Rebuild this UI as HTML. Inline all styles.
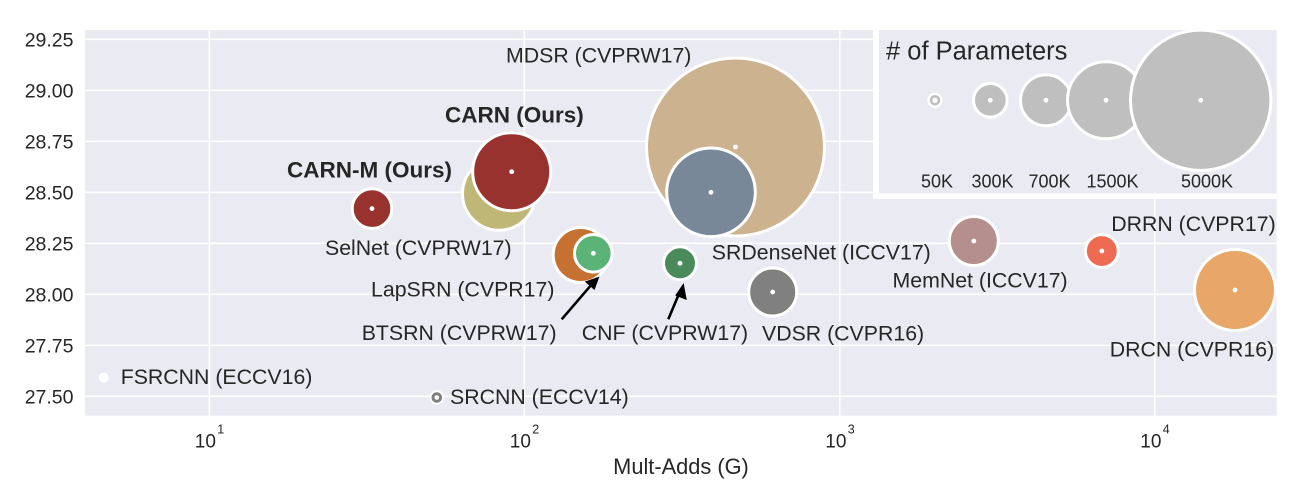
<!DOCTYPE html>
<html>
<head>
<meta charset="utf-8">
<style>
html,body{margin:0;padding:0;background:#fff;}
svg{display:block;}
text{font-family:"Liberation Sans",Arial,sans-serif;fill:#262626;}
</style>
</head>
<body>
<svg width="1316" height="496" viewBox="0 0 1316 496" xmlns="http://www.w3.org/2000/svg">
<rect x="0" y="0" width="1316" height="496" fill="#ffffff"/>
<!-- axes background -->
<rect x="85" y="30" width="1191.7" height="385.7" fill="#eaeaf2"/>
<!-- grid -->
<g stroke="#ffffff" stroke-width="1.6">
<line x1="85" x2="1276.7" y1="39.3" y2="39.3"/>
<line x1="85" x2="1276.7" y1="90.3" y2="90.3"/>
<line x1="85" x2="1276.7" y1="141.3" y2="141.3"/>
<line x1="85" x2="1276.7" y1="192.3" y2="192.3"/>
<line x1="85" x2="1276.7" y1="243.3" y2="243.3"/>
<line x1="85" x2="1276.7" y1="294.3" y2="294.3"/>
<line x1="85" x2="1276.7" y1="345.3" y2="345.3"/>
<line x1="85" x2="1276.7" y1="396.3" y2="396.3"/>
<line x1="209.3" x2="209.3" y1="30" y2="415.7"/>
<line x1="524.3" x2="524.3" y1="30" y2="415.7"/>
<line x1="839.8" x2="839.8" y1="30" y2="415.7"/>
<line x1="1154.8" x2="1154.8" y1="30" y2="415.7"/>
</g>
<!-- y tick labels -->
<g font-size="19.5" text-anchor="end">
<text x="73.5" y="46.3">29.25</text>
<text x="73.5" y="97.3">29.00</text>
<text x="73.5" y="148.3">28.75</text>
<text x="73.5" y="199.3">28.50</text>
<text x="73.5" y="250.3">28.25</text>
<text x="73.5" y="301.3">28.00</text>
<text x="73.5" y="352.3">27.75</text>
<text x="73.5" y="403.3">27.50</text>
</g>
<!-- x tick labels -->
<g font-size="19">
<text x="194.8" y="447.7">10</text><text x="217.3" y="433.5" font-size="12.5">1</text>
<text x="509.8" y="447.7">10</text><text x="532.3" y="433.5" font-size="12.5">2</text>
<text x="825.3" y="447.7">10</text><text x="847.8" y="433.5" font-size="12.5">3</text>
<text x="1140.3" y="447.7">10</text><text x="1162.8" y="433.5" font-size="12.5">4</text>
</g>
<text x="681" y="474" font-size="21.8" text-anchor="middle">Mult-Adds (G)</text>

<!-- bubbles -->
<g stroke="#ffffff" stroke-width="3">
<circle cx="735.5" cy="147" r="89" fill="#cdb290"/>
<circle cx="711" cy="192.3" r="44.3" fill="#788898"/>
<circle cx="499" cy="193.7" r="36.5" fill="#bfb776"/>
<circle cx="511.7" cy="171.7" r="39" fill="#97322f"/>
<circle cx="372" cy="208.6" r="19.8" fill="#97322f"/>
<circle cx="580.7" cy="255" r="27.5" fill="#c67032"/>
<circle cx="593.3" cy="253.3" r="18.8" fill="#5cb377"/>
<circle cx="680" cy="263.3" r="16.5" fill="#4a8a5b"/>
<circle cx="772.7" cy="292" r="24" fill="#808080"/>
<circle cx="973.8" cy="241" r="24.5" fill="#b58f8e"/>
<circle cx="1101.8" cy="251" r="16.4" fill="#ee6a50"/>
<circle cx="1235" cy="290" r="40.5" fill="#e8a769"/>
<circle cx="103.7" cy="377.7" r="3.5" fill="#f4f4f8"/>
</g>
<circle cx="436.8" cy="397.5" r="6.3" fill="#808080" stroke="#ffffff" stroke-width="2"/>
<!-- center dots -->
<g fill="#ffffff">
<circle cx="735.5" cy="147" r="2.4"/>
<circle cx="711" cy="192.3" r="2.4"/>
<circle cx="511.7" cy="171.7" r="2.4"/>
<circle cx="372" cy="208.6" r="2.4"/>
<circle cx="593.3" cy="253.3" r="2.4"/>
<circle cx="680" cy="263.3" r="2.4"/>
<circle cx="772.7" cy="292" r="2.4"/>
<circle cx="973.8" cy="241" r="2.4"/>
<circle cx="1101.8" cy="251" r="2.4"/>
<circle cx="1235" cy="290" r="2.4"/>
<circle cx="436.8" cy="397.5" r="2.3"/>
<circle cx="103.7" cy="377.7" r="4.5"/>
</g>

<!-- arrows -->
<g stroke="#000" stroke-width="2.6" fill="none">
<line x1="561.7" y1="319.3" x2="591" y2="285.2"/>
<line x1="668.3" y1="319.3" x2="679.2" y2="293.2"/>
</g>
<g fill="#000">
<polygon points="599.5,276.5 584.8,281.6 594.5,290"/>
<polygon points="683.6,283 675.2,295.5 686.8,300"/>
</g>

<!-- labels -->
<g font-size="21.3">
<text x="506" y="62.3">MDSR (CVPRW17)</text>
<text x="325" y="255">SelNet (CVPRW17)</text>
<text x="371" y="296.5">LapSRN (CVPR17)</text>
<text x="361.7" y="340">BTSRN (CVPRW17)</text>
<text x="581.7" y="340">CNF (CVPRW17)</text>
<text x="450" y="404">SRCNN (ECCV14)</text>
<text x="120.7" y="384">FSRCNN (ECCV16)</text>
<text x="711.8" y="259.3">SRDenseNet (ICCV17)</text>
<text x="762" y="340.7">VDSR (CVPR16)</text>
<text x="892.5" y="287.3">MemNet (ICCV17)</text>
<text x="1111.2" y="231">DRRN (CVPR17)</text>
<text x="1109.7" y="356.7">DRCN (CVPR16)</text>
</g>
<g font-size="22.5" font-weight="bold">
<text x="445" y="122.3">CARN (Ours)</text>
<text x="287" y="177.3">CARN-M (Ours)</text>
</g>

<!-- legend -->
<rect x="873" y="30" width="403.7" height="169" fill="#ffffff"/>
<rect x="879" y="30" width="397.7" height="163.3" fill="#eaeaf2"/>
<text x="886" y="59.3" font-size="25.5">&#35; of Parameters</text>
<g stroke="#ffffff" stroke-width="3" fill="#bfbfbf">
<circle cx="935" cy="100.3" r="6.5" stroke-width="2.5"/>
<circle cx="990.3" cy="100.3" r="16.8"/>
<circle cx="1046" cy="100.3" r="25.5"/>
<circle cx="1106" cy="100.3" r="38.5"/>
<circle cx="1200.7" cy="100.3" r="70.2"/>
</g>
<g fill="#ffffff">
<circle cx="935" cy="100.3" r="2.7"/>
<circle cx="990.3" cy="100.3" r="2.4"/>
<circle cx="1046" cy="100.3" r="2.4"/>
<circle cx="1106" cy="100.3" r="2.4"/>
<circle cx="1200.7" cy="100.3" r="2.4"/>
</g>
<g font-size="18" text-anchor="middle">
<text x="937" y="187.5">50K</text>
<text x="992.5" y="187.5">300K</text>
<text x="1049.5" y="187.5">700K</text>
<text x="1112.5" y="187.5">1500K</text>
<text x="1207" y="187.5">5000K</text>
</g>
</svg>
</body>
</html>
